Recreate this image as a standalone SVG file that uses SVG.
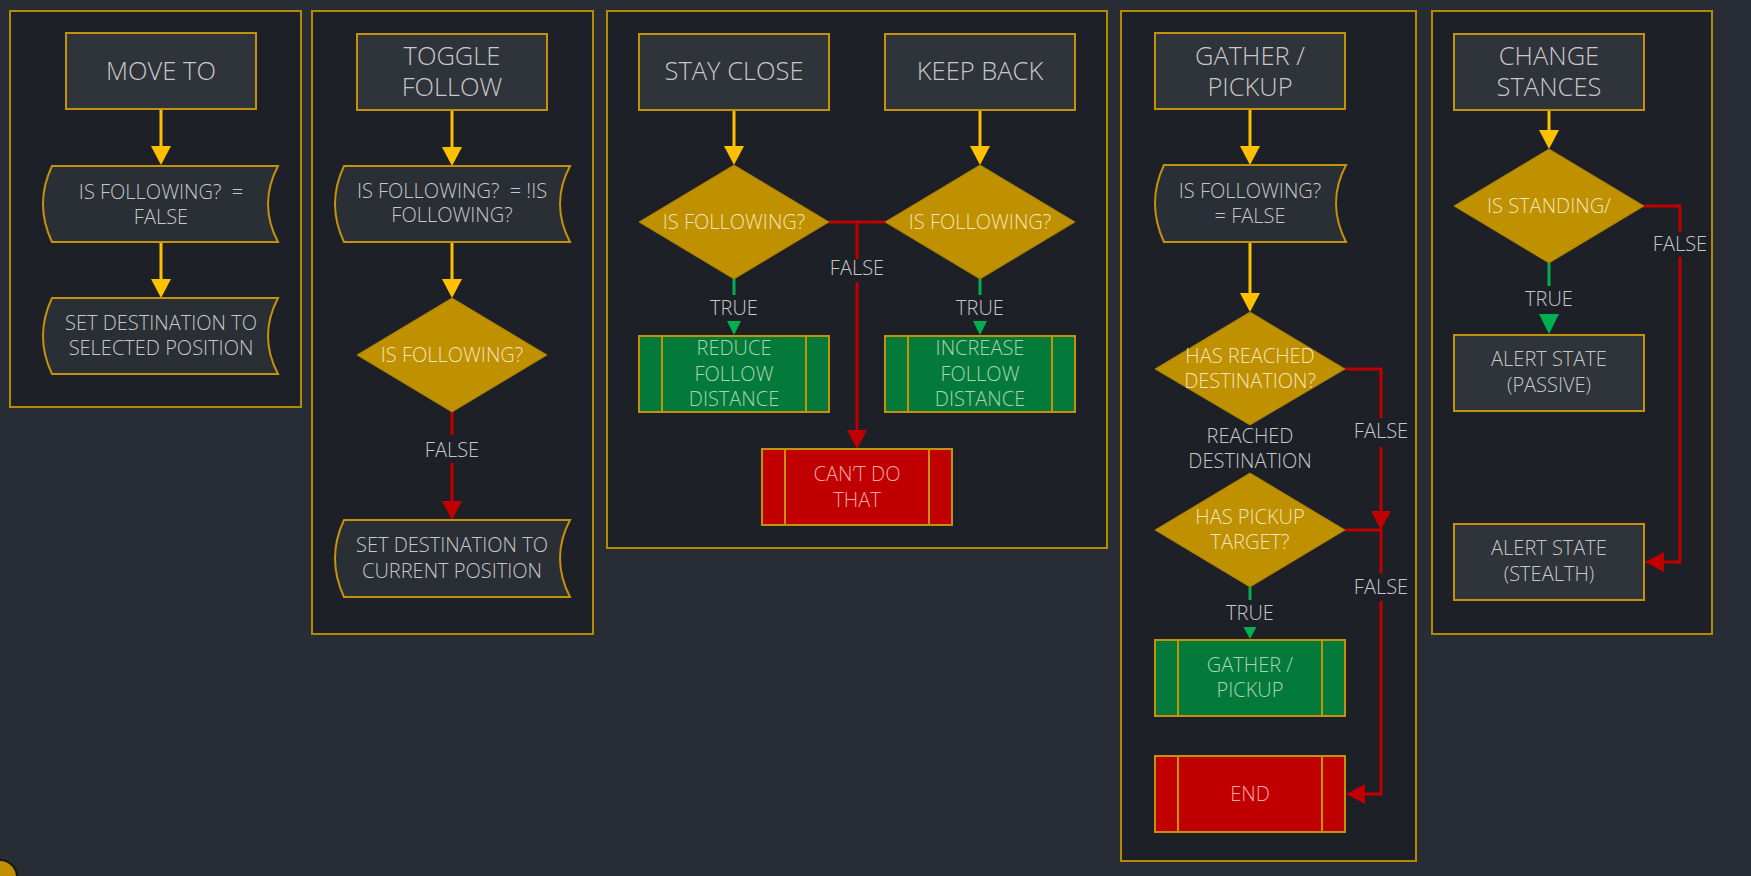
<svg xmlns="http://www.w3.org/2000/svg" width="1751" height="876" viewBox="0 0 1751 876">
<defs>
<style>
.panel{fill:#1d2027;stroke:#b38a00;stroke-width:2}
.box{fill:#2f333a;stroke:#c4920a;stroke-width:2}
.wave{fill:#2a2e35;stroke:#c4920a;stroke-width:2}
.dia{fill:#bf9000;stroke:#a87f00;stroke-width:1}
.gbox{fill:#047a3a;stroke:#c4920a;stroke-width:2}
.rbox{fill:#c00000;stroke:#c4920a;stroke-width:2}
.inner{stroke:#c4920a;stroke-width:2;fill:none}
text{font-family:"Open Sans","Liberation Sans",sans-serif;font-weight:300;text-anchor:middle;white-space:pre}
.t{font-size:25.5px;fill:#c8c8c8}
.b{font-size:20px;fill:#c8c8c8}
.d{font-size:20px;fill:#f3e4b9}
.g{font-size:20px;fill:#a8d5b6}
.r{font-size:20px;fill:#f2a9a9}
.lbl{font-size:20px;fill:#c8c8c8}
.ag{stroke:#ffc000;stroke-width:3;fill:none}
.ar{stroke:#c00000;stroke-width:3;fill:none}
.an{stroke:#00b050;stroke-width:3;fill:none}
</style>
<marker id="mg" markerUnits="userSpaceOnUse" markerWidth="20" markerHeight="20" refX="0" refY="10" orient="auto"><path d="M0,0 L19,10 L0,20 Z" fill="#ffc000"/></marker>
<marker id="mr" markerUnits="userSpaceOnUse" markerWidth="20" markerHeight="20" refX="0" refY="10" orient="auto"><path d="M0,0 L19,10 L0,20 Z" fill="#c00000"/></marker>
</defs>
<rect width="1751" height="876" fill="#282c34"/>

<g id="panels">
<rect class="panel" x="10" y="11" width="291" height="396"/>
<rect class="panel" x="312" y="11" width="281" height="623"/>
<rect class="panel" x="607" y="11" width="500" height="537"/>
<rect class="panel" x="1121" y="11" width="295" height="850"/>
<rect class="panel" x="1432" y="11" width="280" height="623"/>
</g>

<g id="connectors">
<line class="ag" x1="161" y1="109" x2="161" y2="146" marker-end="url(#mg)"/>
<line class="ag" x1="161" y1="242" x2="161" y2="279" marker-end="url(#mg)"/>
<line class="ag" x1="452" y1="110" x2="452" y2="147" marker-end="url(#mg)"/>
<line class="ag" x1="452" y1="242" x2="452" y2="279" marker-end="url(#mg)"/>
<line class="ar" x1="452" y1="412" x2="452" y2="435"/>
<line class="ar" x1="452" y1="463" x2="452" y2="501" marker-end="url(#mr)"/>
<line class="ag" x1="734" y1="110" x2="734" y2="146" marker-end="url(#mg)"/>
<line class="ag" x1="980" y1="110" x2="980" y2="146" marker-end="url(#mg)"/>
<polyline class="ar" points="829,222 885,222"/>
<line class="ar" x1="857" y1="222" x2="857" y2="259"/>
<line class="ar" x1="857" y1="282" x2="857" y2="430" marker-end="url(#mr)"/>
<line class="an" x1="734" y1="279" x2="734" y2="295"/>
<line class="an" x1="980" y1="279" x2="980" y2="295"/>
<polygon points="727,321 741,321 734,335" fill="#00b050"/>
<polygon points="973,321 987,321 980,335" fill="#00b050"/>
<line class="ag" x1="1250" y1="109" x2="1250" y2="146" marker-end="url(#mg)"/>
<line class="ag" x1="1250" y1="242" x2="1250" y2="293" marker-end="url(#mg)"/>
<polyline class="ar" points="1345,369 1381,369 1381,418"/>
<line class="ar" x1="1381" y1="447" x2="1381" y2="511" marker-end="url(#mr)"/>
<polyline class="ar" points="1345,530 1381,530 1381,573"/>
<polyline class="ar" points="1381,601 1381,794 1365,794" marker-end="url(#mr)"/>
<line class="an" x1="1250" y1="587" x2="1250" y2="600"/>
<polygon points="1243.5,627 1256.5,627 1250,639" fill="#00b050"/>
<line class="ag" x1="1549" y1="110" x2="1549" y2="130" marker-end="url(#mg)"/>
<polyline class="ar" points="1644,206 1680,206 1680,232"/>
<polyline class="ar" points="1680,257 1680,562 1664,562" marker-end="url(#mr)"/>
<line class="an" x1="1549" y1="263" x2="1549" y2="286"/>
<polygon points="1539,314 1559,314 1549,334" fill="#00b050"/>
</g>

<g id="labels">
<text class="lbl" x="452" y="457">FALSE</text>
<text class="lbl" x="857" y="275">FALSE</text>
<text class="lbl" x="734" y="315">TRUE</text>
<text class="lbl" x="980" y="315">TRUE</text>
<text class="lbl" x="1381" y="438">FALSE</text>
<text class="lbl" x="1250" y="443">REACHED</text>
<text class="lbl" x="1250" y="468">DESTINATION</text>
<text class="lbl" x="1381" y="594">FALSE</text>
<text class="lbl" x="1250" y="620">TRUE</text>
<text class="lbl" x="1680" y="251">FALSE</text>
<text class="lbl" x="1549" y="306">TRUE</text>
</g>

<g id="move-to"><rect class="box" x="66" y="33" width="190" height="76"/><text class="t" x="161" y="80">MOVE TO</text></g>
<g id="p1-set-following">
<path class="wave" d="M52,166 L278,166 Q258,204 278,242 L52,242 Q34,204 52,166 Z"/>
<text class="b" x="161" y="199">IS FOLLOWING?  =</text><text class="b" x="161" y="224">FALSE</text></g>
<g id="p1-set-destination">
<path class="wave" d="M52,298 L278,298 Q258,336 278,374 L52,374 Q34,336 52,298 Z"/>
<text class="b" x="161" y="330">SET DESTINATION TO</text><text class="b" x="161" y="355">SELECTED POSITION</text></g>

<g id="toggle-follow"><rect class="box" x="357" y="34" width="190" height="76"/><text class="t" x="452" y="65">TOGGLE</text><text class="t" x="452" y="96">FOLLOW</text></g>
<g id="p2-toggle">
<path class="wave" d="M344,166 L570,166 Q550,204 570,242 L344,242 Q326,204 344,166 Z"/>
<text class="b" x="452" y="198">IS FOLLOWING?  = !IS</text><text class="b" x="452" y="222">FOLLOWING?</text></g>
<g id="p2-decision"><polygon class="dia" points="452,298 547,355 452,412 357,355"/><text class="d" x="452" y="362">IS FOLLOWING?</text></g>
<g id="p2-set-destination">
<path class="wave" d="M344,520 L570,520 Q550,558 570,597 L344,597 Q326,558 344,520 Z"/>
<text class="b" x="452" y="552">SET DESTINATION TO</text><text class="b" x="452" y="578">CURRENT POSITION</text></g>

<g id="stay-close"><rect class="box" x="639" y="34" width="190" height="76"/><text class="t" x="734" y="80">STAY CLOSE</text></g>
<g id="keep-back"><rect class="box" x="885" y="34" width="190" height="76"/><text class="t" x="980" y="80">KEEP BACK</text></g>
<g id="p3-decision-1"><polygon class="dia" points="734,165 829,222 734,279 639,222"/><text class="d" x="734" y="229">IS FOLLOWING?</text></g>
<g id="p3-decision-2"><polygon class="dia" points="980,165 1075,222 980,279 885,222"/><text class="d" x="980" y="229">IS FOLLOWING?</text></g>
<g id="reduce-distance"><rect class="gbox" x="639" y="336" width="190" height="76"/><line class="inner" x1="662" y1="336" x2="662" y2="412"/><line class="inner" x1="806" y1="336" x2="806" y2="412"/>
<text class="g" x="734" y="355">REDUCE</text><text class="g" x="734" y="381">FOLLOW</text><text class="g" x="734" y="406">DISTANCE</text></g>
<g id="increase-distance"><rect class="gbox" x="885" y="336" width="190" height="76"/><line class="inner" x1="908" y1="336" x2="908" y2="412"/><line class="inner" x1="1052" y1="336" x2="1052" y2="412"/>
<text class="g" x="980" y="355">INCREASE</text><text class="g" x="980" y="381">FOLLOW</text><text class="g" x="980" y="406">DISTANCE</text></g>
<g id="cant-do"><rect class="rbox" x="762" y="449" width="190" height="76"/><line class="inner" x1="785" y1="449" x2="785" y2="525"/><line class="inner" x1="929" y1="449" x2="929" y2="525"/>
<text class="r" x="857" y="481">CAN’T DO</text><text class="r" x="857" y="507">THAT</text></g>

<g id="gather-pickup"><rect class="box" x="1155" y="33" width="190" height="76"/><text class="t" x="1250" y="65">GATHER /</text><text class="t" x="1250" y="96">PICKUP</text></g>
<g id="p4-set-following">
<path class="wave" d="M1164,165 L1346,165 Q1326,203 1346,242 L1164,242 Q1146,203 1164,165 Z"/>
<text class="b" x="1250" y="198">IS FOLLOWING?</text><text class="b" x="1250" y="223">= FALSE</text></g>
<g id="p4-reached"><polygon class="dia" points="1250,312 1345,369 1250,425 1155,369"/><text class="d" x="1250" y="363">HAS REACHED</text><text class="d" x="1250" y="388">DESTINATION?</text></g>
<g id="p4-target"><polygon class="dia" points="1250,473 1345,530 1250,587 1155,530"/><text class="d" x="1250" y="524">HAS PICKUP</text><text class="d" x="1250" y="549">TARGET?</text></g>
<g id="p4-gather"><rect class="gbox" x="1155" y="640" width="190" height="76"/><line class="inner" x1="1178" y1="640" x2="1178" y2="716"/><line class="inner" x1="1322" y1="640" x2="1322" y2="716"/>
<text class="g" x="1250" y="672">GATHER /</text><text class="g" x="1250" y="697">PICKUP</text></g>
<g id="p4-end"><rect class="rbox" x="1155" y="756" width="190" height="76"/><line class="inner" x1="1178" y1="756" x2="1178" y2="832"/><line class="inner" x1="1322" y1="756" x2="1322" y2="832"/>
<text class="r" x="1250" y="801">END</text></g>

<g id="change-stances"><rect class="box" x="1454" y="34" width="190" height="76"/><text class="t" x="1549" y="65">CHANGE</text><text class="t" x="1549" y="96">STANCES</text></g>
<g id="p5-decision"><polygon class="dia" points="1549,149 1644,206 1549,263 1454,206"/><text class="d" x="1549" y="213">IS STANDING/</text></g>
<g id="alert-passive"><rect class="box" x="1454" y="335" width="190" height="76"/><text class="b" x="1549" y="366">ALERT STATE</text><text class="b" x="1549" y="392">(PASSIVE)</text></g>
<g id="alert-stealth"><rect class="box" x="1454" y="524" width="190" height="76"/><text class="b" x="1549" y="555">ALERT STATE</text><text class="b" x="1549" y="581">(STEALTH)</text></g>

<circle cx="0" cy="877" r="17" fill="#c09000" stroke="#15171b" stroke-width="2"/>
</svg>
